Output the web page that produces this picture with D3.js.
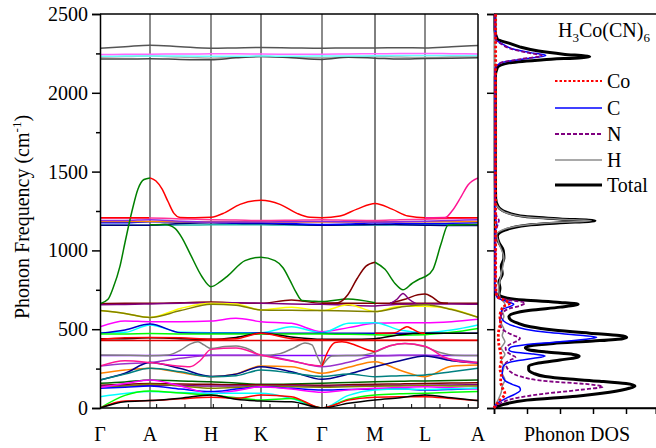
<!DOCTYPE html>
<html><head><meta charset="utf-8">
<script src="https://cdn.jsdelivr.net/npm/d3@7"></script>
</head><body style="margin:0">
<svg id="c" width="656" height="448"></svg>
<script>
// ---------- data ----------
const kLabels = ["Γ","A","H","K","Γ","M","L","A"];
const kTicks  = [0, 50, 111, 161, 222, 275, 325, 378];
// sample positions: high-symmetry points and segment midpoints
const kSamples = [0,25,50,80.5,111,136,161,191.5,222,248.5,275,300,325,351.5,378];
const freqTicks = [0,500,1000,1500,2000,2500];
const freqMinor = [250,750,1250,1750,2250];
const dosTicks = [0,1,2,3,4];

// bands sampled at kSamples (cm^-1)
const bandFreqs = [
 [2283,2292,2302,2292,2283,2285,2287,2285,2283,2285,2285,2286,2285,2292,2300],
 [2226,2230,2233,2227,2220,2226,2231,2226,2222,2228,2231,2227,2224,2228,2231],
 [2214,2214,2216,2212,2210,2222,2230,2222,2212,2225,2220,2214,2218,2220,2222],
 [2232,2233,2234,2233,2232,2232,2233,2232,2233,2233,2235,2236,2236,2236,2236],
 [2243,2244,2245,2246,2247,2247,2246,2245,2245,2246,2248,2249,2250,2248,2246],
 [1160,1160,1160,1161,1162,1162,1162,1161,1160,1160,1161,1162,1162,1162,1163],
 [1160,1160,1160,1170,1175,1172,1170,1165,1160,1162,1165,1163,1160,1158,1158],
 [1175,1175,1182,1180,1178,1176,1176,1170,1165,1168,1175,1172,1170,1172,1175],
 [1183,1183,1183,1182,1181,1181,1181,1180,1180,1180,1181,1182,1182,1183,1183],
 [1190,1190,1195,1185,1180,1180,1180,1182,1183,1182,1180,1182,1185,1190,1195],
 [1205,1205,1205,1200,1195,1193,1190,1192,1195,1192,1190,1195,1198,1203,1207],
 [662,664,664,668,672,668,665,685,665,665,665,665,665,665,665],
 [655,657,660,665,668,668,665,660,658,652,648,658,660,660,658],
 [618,600,575,632,665,660,622,640,618,655,612,645,645,628,575],
 [618,600,575,618,658,652,622,620,618,615,612,640,655,625,575],
 [516,552,548,548,552,569,548,537,484,510,537,541,541,548,563],
 [478,480,527,480,478,478,478,516,478,537,541,495,478,495,527],
 [474,495,533,478,474,474,476,474,474,474,474,474,474,474,474],
 [470,470,472,470,470,470,470,470,470,468,465,462,465,480,505],
 [440,440,445,440,436,448,474,450,436,436,440,465,474,474,474],
 [436,445,448,446,436,440,474,440,431,430,430,430,430,430,430],
 [428,428,428,428,428,428,428,428,428,428,428,428,428,428,428],
 [333,333,333,334,335,335,334,333,333,333,333,334,334,333,333],
 [266,280,288,315,333,333,333,300,262,290,330,333,333,310,288],
 [220,241,252,225,199,216,266,262,220,258,294,240,199,265,273],
 [178,220,288,250,200,215,262,230,182,215,262,300,330,300,285],
 [178,215,252,230,199,205,241,222,200,215,199,205,210,230,252],
 [157,165,178,172,167,158,150,152,157,162,167,170,172,175,178],
 [145,150,155,152,150,148,148,147,145,148,150,153,155,158,160],
 [140,142,145,143,140,140,142,140,138,140,142,144,145,146,148],
 [135,140,150,140,125,130,140,135,132,135,138,140,142,140,140],
 [125,132,140,120,104,120,135,125,114,118,120,122,114,118,125],
 [130,155,178,140,93,110,135,120,100,115,125,130,135,128,120],
 [72,92,104,98,93,93,93,60,0,80,114,120,118,122,125],
 [0,80,108,95,82,65,51,60,0,55,82,90,93,100,104],
 [0,45,47,58,68,62,82,72,0,50,68,72,72,60,47],
 [0,40,47,62,82,55,44,40,0,30,51,65,82,65,47]
];
const bandColors = [
 "#555555","#aaaaaa","#444444","#66ffff","#ff66ff",
 "#20b2aa","#000080","#0000ff","#ff8c00","#8a2be2","#ff3399",
 "#800000","#800080","#ffff00","#808000","#ff00ff","#00ffff","#0000cd","#00ff00",
 "#000000","#ff0000","#e00000","#8000ff","#9932cc","#ff8000","#00008b","#008080",
 "#006400","#800000","#800080","#808000","#0000ff","#ff00ff","#00ffff","#00ff00","#ff0000","#000000"
];

// band pieces that cross or jump, as [k, frequency]
const pieceGreenGA = [[0,662],[8,690],[13,760],[20,900],[25,1050],[32,1250],[38,1390],[44,1450],[50,1460]];
const pieceRedFlat = [[0,1207],[49,1207]];
const pieceRedTop = [[50,1460],[56,1440],[62,1390],[68,1310],[74,1235],[80,1209],[95,1207],[111,1210],[125,1240],[140,1292],[161,1318],[180,1292],[197,1235],[210,1210],[222,1207],[240,1218],[257,1262],[275,1298],[292,1262],[308,1218],[325,1207],[378,1207]];
const pieceGreenAK = [[50,1162],[65,1165],[75,1140],[82,1080],[90,980],[102,833],[111,770],[120,800],[128,840],[145,935],[161,957],[175,935],[183,890],[190,810],[196,735],[202,682],[212,678],[222,675],[248,692],[275,668]];
const pieceMaroonGM = [[222,665],[238,668],[248,720],[257,820],[266,900],[275,925]];
const pieceGreenMA = [[275,925],[285,880],[295,790],[303,750],[312,790],[320,820],[325,833],[333,880],[341,1040],[348,1160],[378,1165]];
const piecePinkLA = [[325,1207],[345,1208],[352,1250],[361,1340],[368,1415],[378,1460]];
const pieceMaroonL = [[290,665],[305,690],[318,718],[325,723],[332,705],[340,670],[348,665]];
const piecePurpleML = [[290,662],[297,690],[303,727],[309,690],[316,662]];
const pieceGrayA = [[0,336],[30,335],[50,332],[68,336],[80,365],[90,405],[98,421],[104,400],[111,378],[125,390],[136,393],[150,370],[161,332],[180,345],[195,385],[205,413],[212,400],[217,330],[222,266]];
const pieceGrayB = [[222,266],[226,300],[232,330],[262,335],[275,355],[290,395],[305,410],[325,388],[340,352],[355,335],[378,333]];
const pieceRedGM = [[222,266],[228,360],[235,415],[242,421],[255,400],[268,368],[275,357]];
const piecePinkA = [[0,266],[25,300],[50,288],[75,268],[90,262],[100,300],[111,372],[136,380],[161,336],[190,300],[210,275],[222,266]];
const piecePinkB = [[275,357],[290,395],[305,410],[325,392],[345,320],[360,295],[378,288]];
const pieceRedML = [[275,474],[295,478],[303,505],[307,516],[312,502],[320,478],[325,474]];
const pieces = [pieceGreenGA,pieceRedFlat,pieceRedTop,pieceGreenAK,pieceMaroonGM,pieceGreenMA,piecePinkLA,
  pieceMaroonL,piecePurpleML,pieceGrayA,pieceGrayB,pieceRedGM,piecePinkA,piecePinkB,pieceRedML];
const pieceColors = ["#008000","#ff0000","#ff0000","#008000","#800000","#008000","#ff1493",
  "#800000","#800080","#808080","#808080","#ff0000","#ff1493","#ff1493","#ff0000"];

// phonon DOS, [frequency, DOS]
const dosTotal = [[0,0],[20,0.25],[50,1.0],[75,2.5],[100,3.5],[125,4.1],[140,4.27],[155,4.0],[170,3.2],[185,2.2],[200,1.55],[220,1.2],[245,1.05],[265,1.05],[285,1.35],[305,2.0],[320,2.5],[330,2.58],[340,2.4],[355,1.6],[370,1.05],[382,0.95],[395,1.1],[410,1.8],[425,3.0],[440,3.9],[449,4.02],[460,3.8],[475,2.9],[495,1.8],[515,1.1],[540,0.7],[560,0.5],[580,0.45],[600,0.6],[620,1.1],[640,2.0],[658,2.55],[670,2.0],[685,0.9],[700,0.35],[720,0.15],[760,0.18],[800,0.15],[850,0.25],[900,0.22],[950,0.3],[1000,0.28],[1050,0.15],[1090,0.1],[1130,0.35],[1160,1.0],[1175,2.0],[1188,3.06],[1200,2.0],[1215,0.95],[1245,0.35],[1280,0.12],[1330,0.05],[1500,0.04],[2100,0.04],[2160,0.1],[2190,0.45],[2210,1.5],[2229,2.9],[2245,2.1],[2265,1.35],[2290,0.8],[2315,0.45],[2340,0.1],[2400,0.03],[2500,0.03]];
const dosH = [[0,0],[50,0.12],[100,0.22],[140,0.25],[180,0.33],[220,0.25],[260,0.3],[300,0.22],[340,0.33],[380,0.22],[420,0.33],[460,0.25],[500,0.3],[540,0.22],[580,0.3],[620,0.25],[660,0.33],[700,0.18],[760,0.14],[850,0.22],[950,0.3],[1050,0.14],[1100,0.08],[1140,0.4],[1165,1.1],[1178,2.0],[1188,2.95],[1198,2.0],[1212,1.0],[1240,0.35],[1280,0.1],[1330,0.02],[2500,0.02]];
const dosC = [[0,0],[30,0.1],[60,0.35],[90,0.65],[115,0.8],[130,0.78],[150,0.55],[175,0.33],[210,0.25],[250,0.26],[280,0.35],[300,0.7],[315,1.2],[330,1.55],[342,1.2],[355,0.6],[370,0.45],[385,0.5],[400,0.9],[420,2.0],[440,2.9],[449,3.11],[460,2.7],[480,1.6],[500,0.95],[520,0.6],[550,0.3],[590,0.2],[625,0.25],[645,0.5],[658,0.6],[675,0.4],[700,0.1],[750,0.03],[1100,0.03],[1170,0.08],[1220,0.03],[2150,0.03],[2190,0.2],[2215,0.9],[2237,1.57],[2255,1.1],[2280,0.55],[2310,0.25],[2340,0.05],[2500,0.02]];
const dosN = [[0,0],[30,0.2],[60,0.6],[90,1.5],[115,2.6],[135,3.3],[150,2.9],[170,1.6],[200,0.8],[230,0.5],[262,0.38],[285,0.35],[305,0.5],[322,0.65],[340,0.5],[360,0.38],[380,0.35],[400,0.45],[420,0.65],[442,0.79],[460,0.6],[485,0.35],[520,0.2],[560,0.18],[600,0.25],[630,0.45],[650,0.8],[668,0.94],[685,0.45],[710,0.1],[760,0.05],[1100,0.05],[1170,0.12],[1190,0.15],[1215,0.08],[1300,0.03],[2150,0.03],[2190,0.2],[2215,0.85],[2235,1.45],[2255,1.0],[2280,0.5],[2310,0.22],[2340,0.05],[2500,0.02]];
const dosCo = [[0,0],[25,0.08],[50,0.18],[90,0.33],[130,0.25],[170,0.2],[210,0.22],[250,0.18],[300,0.22],[350,0.2],[400,0.15],[450,0.13],[500,0.15],[540,0.2],[580,0.18],[620,0.22],[645,0.3],[666,0.48],[685,0.3],[710,0.08],[800,0.05],[2500,0.05]];
const legendNames = ["Co","C","N","H","Total"];

// ---------- drawing ----------
const svg = d3.select("#c");
const L=100, R=478, T=14, B=408, DL=494, DR=655.7;
const x = d3.scaleLinear().domain([0,378]).range([L,R]);
const y = d3.scaleLinear().domain([0,2500]).range([B,T]);
const xd = d3.scaleLinear().domain([0,4.9]).range([DL,DR]);
function serif(sel){ return sel.attr("font-family","Liberation Serif").style("font-family","'Liberation Serif'"); }

svg.append("defs").append("clipPath").attr("id","bp")
  .append("rect").attr("x",L).attr("y",T).attr("width",R-L).attr("height",B-T);

kTicks.slice(1,-1).forEach((k,i)=>{
  const lbl = kLabels[i+1];
  const black = (lbl==="K"||lbl==="M");
  svg.append("line").attr("x1",x(k)).attr("x2",x(k)).attr("y1",T).attr("y2",B)
    .attr("stroke",black?"#000":"#5a5a5a").attr("stroke-width",black?1:1.4);
});

const g = svg.append("g").attr("clip-path","url(#bp)");
const bandLine = d3.line().x((d,i)=>x(kSamples[i])).y(d=>y(d)).curve(d3.curveMonotoneX);
bandFreqs.forEach((b,i)=>{
  g.append("path").attr("d",bandLine(b)).attr("fill","none")
   .attr("stroke",bandColors[i]).attr("stroke-width",1.5);
});
const pieceLine = d3.line().x(d=>x(d[0])).y(d=>y(d[1])).curve(d3.curveMonotoneX);
pieces.forEach((p,i)=>{
  g.append("path").attr("d",pieceLine(p)).attr("fill","none")
   .attr("stroke",pieceColors[i]).attr("stroke-width",1.5);
});

svg.append("line").attr("x1",L).attr("x2",R).attr("y1",T).attr("y2",T).attr("stroke","#000").attr("stroke-width",1.5);
svg.append("line").attr("x1",R).attr("x2",R).attr("y1",T).attr("y2",B).attr("stroke","#000").attr("stroke-width",1.5);

const ya = svg.append("g").attr("transform",`translate(${L},0)`)
  .call(d3.axisLeft(y).tickValues(freqTicks).tickSize(8).tickPadding(4).tickFormat(d3.format("d")));
serif(ya).attr("font-size",20);
serif(ya.selectAll("text")).attr("font-size",20);
ya.select(".domain").attr("stroke-width",1.5);
ya.selectAll(".tick line").attr("stroke-width",1.5);
const ym = svg.append("g").attr("transform",`translate(${L},0)`)
  .call(d3.axisLeft(y).tickValues(freqMinor).tickSize(4).tickFormat(""));
ym.select(".domain").remove();
ym.selectAll(".tick line").attr("stroke-width",1.5);

svg.append("line").attr("x1",L).attr("x2",R).attr("y1",B).attr("y2",B).attr("stroke","#000").attr("stroke-width",1.5);
d3.range(1,14).forEach(i=>{
  const xx = L + i*28.33;
  if (xx < R-3) svg.append("line").attr("x1",xx).attr("x2",xx).attr("y1",B).attr("y2",B-4).attr("stroke","#000").attr("stroke-width",1);
});
kTicks.forEach((k,i)=>{
  serif(svg.append("text")).attr("x",x(k)).attr("y",441).attr("text-anchor","middle")
    .attr("font-size",20).text(kLabels[i]);
});

const yl = serif(svg.append("text")).attr("transform","rotate(-90)").attr("x",-217).attr("y",29)
  .attr("text-anchor","middle").attr("font-size",20);
yl.append("tspan").text("Phonon Frequency (cm");
yl.append("tspan").attr("font-size",13).attr("dy",-8).text("-1");
yl.append("tspan").attr("dy",8).text(")");

// ---------- DOS panel ----------
const da = svg.append("g").attr("transform",`translate(${DL},0)`)
  .call(d3.axisLeft(y).tickValues(freqTicks).tickSize(7).tickFormat(""));
da.select(".domain").attr("stroke-width",1.5);
da.selectAll(".tick line").attr("stroke-width",1.5);
const db = svg.append("g").attr("transform",`translate(0,${B})`)
  .call(d3.axisBottom(xd).tickValues(dosTicks).tickSize(6).tickFormat(""));
db.select(".domain").attr("stroke-width",1.5);
db.selectAll(".tick line").attr("stroke-width",1.5);
svg.append("line").attr("x1",DL).attr("x2",656).attr("y1",T).attr("y2",T).attr("stroke","#000").attr("stroke-width",1.5);
svg.append("line").attr("x1",DL).attr("x2",656).attr("y1",B).attr("y2",B).attr("stroke","#000").attr("stroke-width",1.5);

const dosLine = d3.line().x(d=>xd(d[1])).y(d=>y(d[0])).curve(d3.curveMonotoneY);
const dosSets = [dosTotal, dosH, dosC, dosN, dosCo];
const dosStyle = [
  {c:"#000000", w:3, dash:null},
  {c:"#8c8c8c", w:1.5, dash:null},
  {c:"#0000ff", w:1.5, dash:null},
  {c:"#800080", w:1.8, dash:"4,2"},
  {c:"#ff0000", w:2.8, dash:"2.5,2"}
];
dosSets.forEach((s,i)=>{
  svg.append("path").attr("d",dosLine(s)).attr("fill","none")
    .attr("stroke",dosStyle[i].c).attr("stroke-width",dosStyle[i].w)
    .attr("stroke-dasharray",dosStyle[i].dash);
});

const legStyle = [dosStyle[4], dosStyle[2], dosStyle[3], dosStyle[1], dosStyle[0]];
const legY = [81,108,134,160,185];
legendNames.forEach((n,i)=>{
  const st = legStyle[i];
  svg.append("line").attr("x1",555).attr("x2",602).attr("y1",legY[i]).attr("y2",legY[i])
    .attr("stroke",st.c).attr("stroke-width",i===0?2:st.w).attr("stroke-dasharray",st.dash);
  serif(svg.append("text")).attr("x",607).attr("y",legY[i]+7).attr("font-size",20).text(n);
});

const tt = serif(svg.append("text")).attr("x",558).attr("y",37).attr("font-size",20);
tt.append("tspan").text("H");
tt.append("tspan").attr("font-size",13).attr("dy",5).text("3");
tt.append("tspan").attr("dy",-5).text("Co(CN)");
tt.append("tspan").attr("font-size",13).attr("dy",5).text("6");

serif(svg.append("text")).attr("x",577).attr("y",441).attr("text-anchor","middle")
  .attr("font-size",20).text("Phonon DOS");
</script>
</body></html>
